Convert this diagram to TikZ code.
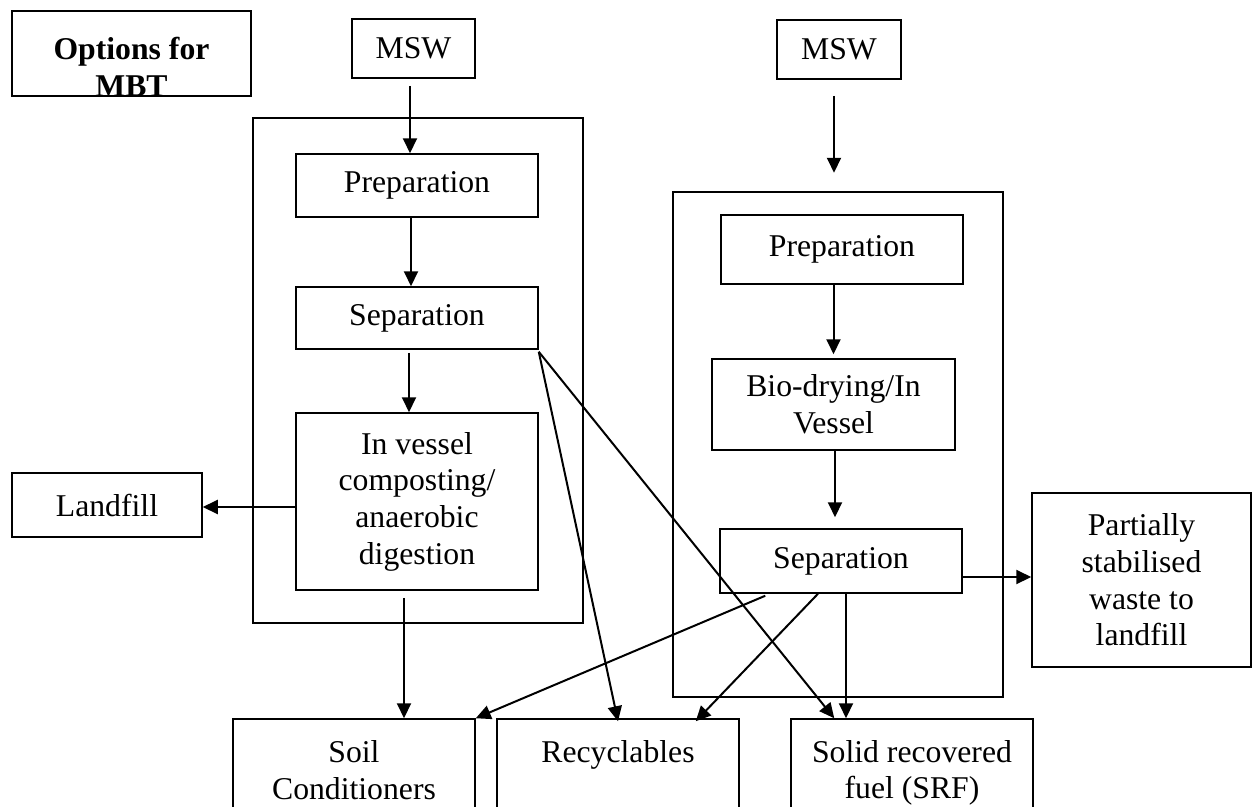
\documentclass[tikz,border=0pt]{standalone}
\usepackage{fontspec}
\setmainfont{Liberation Serif}
\usetikzlibrary{arrows.meta,calc}
\newcommand\fsz{\fontsize{31.7pt}{36.7pt}\selectfont}
\tikzset{
  box/.style={draw, line width=1.5pt, inner sep=0pt, align=center, font=\fsz},
  txt/.style={inner sep=0pt, align=center, font=\fsz},
  con/.style={line width=2pt, -{Triangle[length=15pt,width=14pt]}},
}
\newcommand\bx[6]{\node[box, minimum width={#4pt-#2pt}, minimum height={#5pt-#3pt}] (#1) at ({(#2+#4)/2},{(#3+#5)/2}) {#6};}
\begin{document}
\begin{tikzpicture}[x=1pt,y=-1pt]
\useasboundingbox (0,0) rectangle (1252,806);
\clip (0,0) rectangle (1252,806);
% title box
\begin{scope}
  \clip (12,11) rectangle (251,96);
  \node[txt, font=\fsz\bfseries] (optt) at (131.5,67) {Options for\\MBT};
\end{scope}
\bx{opt}{12}{11}{251}{96}{}
% left column
\bx{mswl}{352}{19}{475}{78}{MSW}
\bx{contl}{253}{118}{583}{623}{}
\bx{prepl}{296}{154}{538}{217}{Preparation}
\bx{sepl}{296}{287}{538}{349}{Separation}
\bx{vesl}{296}{413}{538}{590}{In vessel\\composting/\\anaerobic\\digestion}
\bx{landfill}{12}{473}{202}{537}{Landfill}
% right column
\bx{mswr}{777}{20}{901}{79}{MSW}
\bx{contr}{673}{192}{1003}{697}{}
\bx{prepr}{721}{215}{963}{284}{Preparation}
\bx{bio}{712}{359}{955}{450}{Bio-drying/In\\Vessel}
\bx{sepr}{720}{529}{962}{593}{Separation}
\bx{psw}{1032}{493}{1251}{667}{Partially\\stabilised\\waste to\\landfill}
% bottom boxes
\bx{soil}{233}{719}{475}{860}{}
\bx{rec}{497}{719}{739}{860}{}
\bx{srf}{791}{719}{1033}{860}{}
\node[txt] (soilt) at (354,770) {Soil\\Conditioners};
\node[txt] (rect) at (618,755) {Recyclables};
\node[txt] (srft) at (912,773) {Solid recovered\\fuel (SRF)};
% left connectors
\draw[con] ($(mswl.south)+(-3.5,7)$) coordinate (a1) -- (a1 |- prepl.north);
\draw[con] ($(prepl.south)+(-6,0)$) coordinate (a2) -- (a2 |- sepl.north);
\draw[con] ($(sepl.south)+(-8,3)$) coordinate (a3) -- (a3 |- vesl.north);
\draw[con] ([yshift=-5.5pt]vesl.west) -- ([yshift=-5.5pt]vesl.west -| landfill.east);
\draw[con] ($(vesl.south)+(-13,7)$) coordinate (a4) -- (a4 |- soil.north);
\draw[con] ($(sepl.south east)+(0,2)$) -- ($(srf.north west)+(44,0)$);
\draw[con] ($(sepl.south east)+(0,2)$) -- ($(rec.north)+(0,3)$);
% right connectors
\draw[con] ($(mswr.south)+(-5,16)$) coordinate (b1) -- ($(mswr.south)+(-5,93)$);
\draw[con] ($(bio.north)+(0,-75)$) coordinate (b2) -- ([yshift=4pt]bio.north);
\draw[con] ($(bio.south)+(1.5,0)$) coordinate (b3) -- ([yshift=11pt]b3 |- sepr.north);
\draw[con] ([yshift=-16pt]sepr.east) -- ([yshift=-16pt]sepr.east -| psw.west);
\draw[con] ($(sepr.south west)+(46,2)$) -- (soil.north east);
\draw[con] ($(sepr.south)+(-23,0)$) -- ($(rec.north east)+(-44,3)$);
\draw[con] ($(sepr.south)+(5,0)$) coordinate (b4) -- (b4 |- srf.north);
\end{tikzpicture}
\end{document}
